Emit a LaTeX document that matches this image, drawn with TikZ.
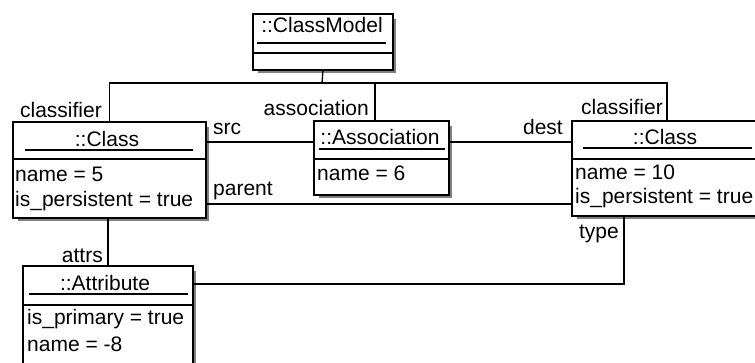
\documentclass[tikz,border=0pt]{standalone}
\usepackage{fontspec}
\setmainfont{Liberation Sans}
\definecolor{shd}{RGB}{128,128,128}
\begin{document}
\begin{tikzpicture}[x=1pt,y=-1pt,
  obj/.style={draw, line width=2pt, fill=white, inner sep=0pt, anchor=north west},
  conn/.style={line width=1.3pt},
  uline/.style={line width=1.5pt},
  sepline/.style={line width=2pt},
  txt/.style={inner sep=0pt, font=\fontsize{21}{25}\selectfont},
]
\useasboundingbox (0,0) rectangle (755,363);
\clip (0,0) rectangle (755,363);

% shadows
\fill[shd] (258,19) rectangle (396,73);
\fill[shd] (18,127) rectangle (209,221);
\fill[shd] (319,126) rectangle (452,198);
\fill[shd] (577,126) rectangle (760,219);
\fill[shd] (28,271) rectangle (196,367);

% named row/column helpers
\coordinate (j0) at (322,83);
\coordinate (ysrc) at (0,142);
\coordinate (ypar) at (0,204);
\coordinate (ytype) at (0,284);
\coordinate (xas) at (375,0);
\coordinate (xc2) at (667,0);
\coordinate (xtype) at (624,0);

% boxes (geometry only, for anchors)
\path (253,14) node[obj, draw=none, fill=none, minimum width=138pt, minimum height=54pt] (cm) {};
\path (13,122) node[obj, draw=none, fill=none, minimum width=191pt, minimum height=94pt] (c1) {};
\path (314,121) node[obj, draw=none, fill=none, minimum width=133pt, minimum height=72pt] (as) {};
\path (572,121) node[obj, draw=none, fill=none, minimum width=182pt, minimum height=93pt] (c2) {};
\path (23,266) node[obj, draw=none, fill=none, minimum width=168pt, minimum height=96pt] (at) {};

% connectors
\draw[conn] (cm.south) -- (j0);
\draw[conn] (c1.north) -- (c1.north |- j0) -- (xc2 |- j0) -- (xc2 |- c2.north);
\draw[conn] (xas |- j0) -- (xas |- as.north);
\draw[conn] (c1.east |- ysrc) -- (as.west |- ysrc);
\draw[conn] (as.east |- ysrc) -- (c2.west |- ysrc);
\draw[conn] (c1.east |- ypar) -- (c2.west |- ypar);
\draw[conn] (at.north) -- (at.north |- c1.south);
\draw[conn] (at.east |- ytype) -- (xtype |- ytype) -- (xtype |- c2.south);

% visible boxes
\draw[line width=2pt, fill=white] (cm.north west) rectangle (cm.south east);
\draw[line width=2pt, fill=white] (c1.north west) rectangle (c1.south east);
\draw[line width=2pt, fill=white] (as.north west) rectangle (as.south east);
\draw[line width=2pt, fill=white] (c2.north west) rectangle (c2.south east);
\draw[line width=2pt, fill=white] (at.north west) rectangle (at.south east);

% ClassModel
\node[txt, anchor=base] (cmt) at (322,33) {::ClassModel};
\draw[uline] (257,43) -- (386,43);
\draw[sepline] (cm.west |- 0,53) -- (cm.east |- 0,53);

% left Class
\node[txt, anchor=base] (c1t) at (107,147) {::Class};
\draw[uline] (25,150) -- (193,150);
\draw[sepline] (c1.west |- 0,159) -- (c1.east |- 0,159);
\node[txt, anchor=base west] (c1a) at (15,182) {name = 5};
\node[txt, anchor=base west] (c1b) at (15,207) {is\_persistent = true};

% Association
\node[txt, anchor=base] (ast) at (380,145) {::Association};
\draw[uline] (319,149) -- (445,149);
\draw[sepline] (as.west |- 0,159) -- (as.east |- 0,159);
\node[txt, anchor=base west] (asa) at (317,181) {name = 6};

% right Class
\node[txt, anchor=base] (c2t) at (665,145) {::Class};
\draw[uline] (583,148) -- (752,148);
\draw[sepline] (c2.west |- 0,159) -- (c2.east |- 0,159);
\node[txt, anchor=base west] (c2a) at (575,180) {name = 10};
\node[txt, anchor=base west] (c2b) at (575,204) {is\_persistent = true};

% Attribute
\node[txt, anchor=base] (att) at (105,291) {::Attribute};
\draw[uline] (29,294) -- (188,294);
\draw[sepline] (at.west |- 0,305) -- (at.east |- 0,305);
\node[txt, anchor=base west] (ata) at (27,325) {is\_primary = true};
\node[txt, anchor=base west] (atb) at (27,351) {name = -8};

% role labels
\node[txt, anchor=base east] (l1) at (102,118) {classifier};
\node[txt, anchor=base east] (l2) at (369,116) {association};
\node[txt, anchor=base east] (l3) at (663,115) {classifier};
\node[txt, anchor=base west] (l4) at (213,135) {src};
\node[txt, anchor=base east] (l5) at (563,135) {dest};
\node[txt, anchor=base west] (l6) at (213,196) {parent};
\node[txt, anchor=base east] (l7) at (103,263) {attrs};
\node[txt, anchor=base east] (l8) at (619,239) {type};
\end{tikzpicture}
\end{document}
